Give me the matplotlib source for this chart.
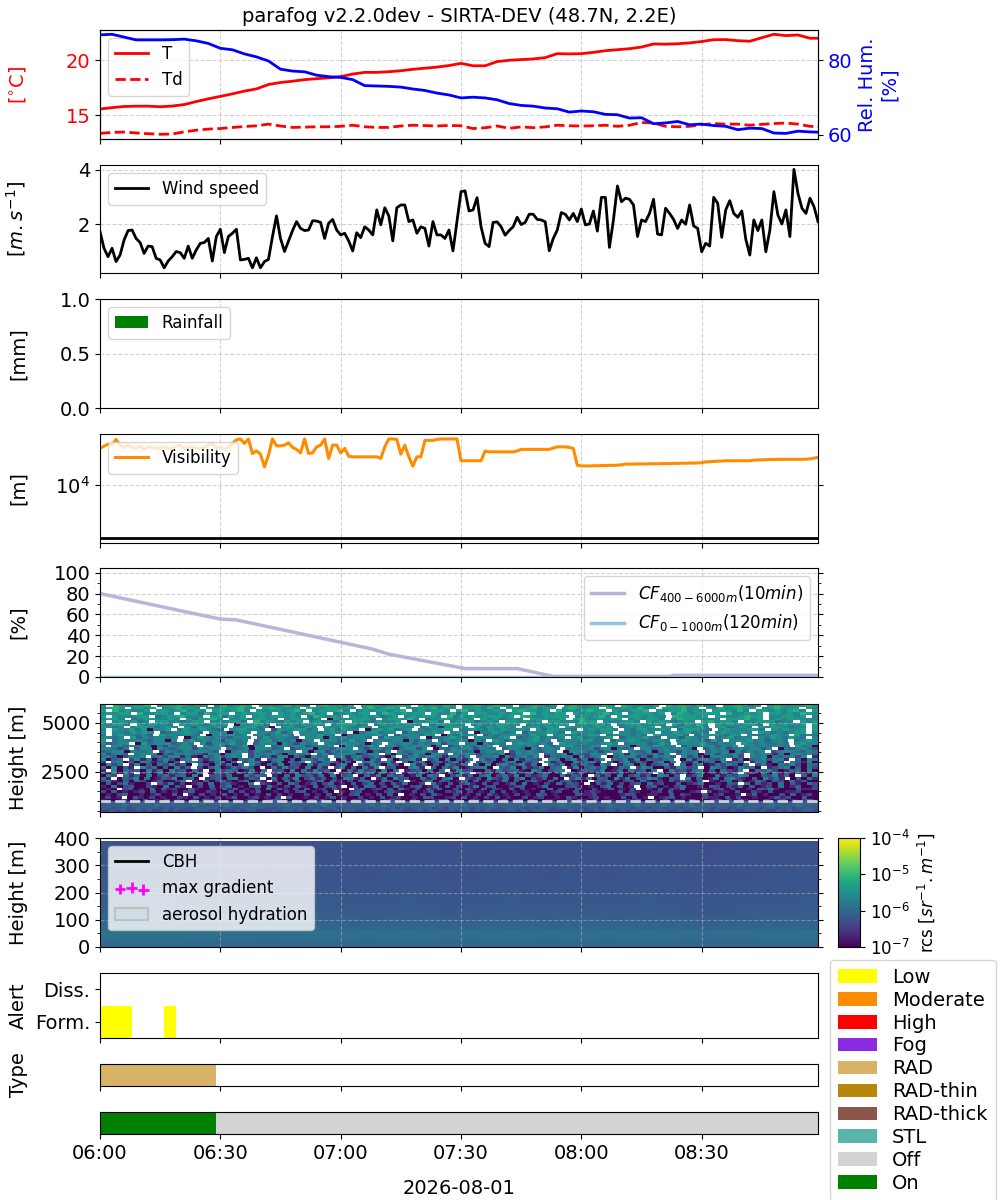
import numpy as np
import matplotlib
matplotlib.use("Agg")
import matplotlib.pyplot as plt
import matplotlib.dates as mdates
import matplotlib.patches as mpatches
from matplotlib.colors import LogNorm
from matplotlib.cm import ScalarMappable
from matplotlib.ticker import MultipleLocator, NullLocator, FixedLocator

plt.rcParams['font.family'] = ['DejaVu Sans']
plt.rcParams['font.size'] = 14

# ---------------------------------------------------------------- data
title = "parafog v2.2.0dev - SIRTA-DEV (48.7N, 2.2E)"
date_label = "2026-08-01"
start = np.datetime64("2026-08-01T06:00")
end_minute = 179

met_minutes = np.arange(0, 181, 3)
temperature = [15.57, 15.70, 15.80, 15.83, 15.83, 15.78, 15.84, 15.98, 16.25, 16.50,
               16.72, 16.95, 17.20, 17.40, 17.80, 17.98, 18.10, 18.24, 18.33, 18.40,
               18.52, 18.75, 18.90, 18.90, 18.96, 19.05, 19.18, 19.28, 19.38, 19.52,
               19.72, 19.50, 19.50, 19.88, 20.00, 20.06, 20.12, 20.24, 20.60, 20.58,
               20.60, 20.72, 20.87, 20.96, 21.05, 21.20, 21.48, 21.46, 21.50, 21.58,
               21.70, 21.87, 21.88, 21.78, 21.73, 22.05, 22.36, 22.24, 22.30, 22.00,
               22.00]
dewpoint = [13.36, 13.45, 13.48, 13.40, 13.33, 13.28, 13.30, 13.50, 13.65, 13.75,
            13.80, 13.90, 13.98, 14.05, 14.20, 14.03, 13.90, 13.93, 13.96, 13.96,
            14.00, 14.10, 13.96, 13.90, 13.90, 14.03, 14.10, 14.07, 14.03, 14.08,
            14.05, 13.80, 13.87, 14.03, 13.82, 13.95, 13.88, 13.95, 14.10, 14.05,
            14.03, 14.05, 14.10, 14.00, 14.10, 14.35, 14.30, 14.00, 13.96, 14.00,
            14.15, 14.25, 14.20, 14.20, 14.10, 14.18, 14.25, 14.30, 14.20, 14.00,
            13.96]
rel_hum = [86.8, 86.95, 86.2, 85.45, 85.45, 85.45, 85.5, 85.65, 85.2, 84.5,
           83.2, 82.8, 81.7, 80.9, 79.8, 77.6, 77.1, 76.9, 76.0, 75.6,
           75.4, 74.8, 73.2, 73.1, 73.0, 72.8, 72.3, 71.9, 71.2, 70.7,
           69.9, 70.1, 69.9, 69.4, 68.4, 67.9, 67.7, 67.2, 67.0, 66.1,
           66.4, 66.2, 65.5, 65.4, 64.5, 64.6, 63.0, 63.2, 63.6, 62.7,
           62.9, 62.5, 62.3, 61.4, 61.8, 61.7, 60.5, 60.4, 61.0, 60.8,
           60.7]

minutes_1min = np.arange(0, 180)
wind_speed = [1.73, 1.12, 0.81, 1.12, 0.63, 0.87, 1.42, 1.77, 1.79, 1.48,
              1.33, 0.93, 1.20, 1.18, 0.75, 0.69, 0.40, 0.65, 0.81, 1.00,
              0.96, 0.75, 1.20, 0.75, 1.06, 1.30, 1.33, 1.48, 0.65, 1.55,
              1.82, 0.96, 1.55, 1.67, 1.82, 0.69, 0.71, 0.75, 0.40, 0.77,
              0.40, 0.63, 0.71, 1.55, 2.31, 1.48, 1.00, 1.39, 1.77, 2.10,
              1.85, 1.77, 1.79, 2.13, 2.12, 2.07, 1.48, 2.04, 2.18, 1.79,
              1.61, 1.67, 1.39, 1.02, 1.69, 1.51, 1.91, 1.79, 1.61, 2.53,
              1.98, 2.61, 2.31, 1.39, 2.61, 2.71, 2.71, 2.10, 2.16, 1.67,
              1.91, 1.85, 1.20, 2.10, 1.61, 1.61, 1.48, 1.79, 1.02, 2.10,
              3.20, 3.23, 2.49, 2.53, 2.98, 1.91, 1.30, 1.18, 2.07, 2.09,
              1.91, 1.60, 1.77, 1.91, 2.26, 1.99, 2.07, 2.37, 2.37, 2.18,
              2.16, 2.09, 1.03, 1.48, 1.79, 2.43, 2.37, 2.16, 2.40, 2.10,
              2.56, 1.98, 2.01, 2.49, 1.75, 2.99, 2.99, 1.15, 2.16, 3.41,
              2.83, 2.96, 2.92, 2.71, 1.55, 2.16, 2.10, 2.40, 2.92, 1.64,
              1.61, 2.59, 2.40, 2.18, 1.85, 2.16, 2.00, 2.71, 1.94, 1.85,
              0.99, 1.30, 1.20, 2.99, 2.77, 1.52, 2.53, 2.87, 2.40, 2.26,
              2.49, 1.45, 0.87, 2.16, 1.77, 2.16, 0.99, 1.79, 3.20, 2.34,
              2.01, 2.53, 1.55, 4.02, 3.14, 2.59, 2.40, 2.96, 2.65, 2.10]
visibility = [30100, 32200, 34200, 33200, 39500, 33200, 31000, 33200, 31000, 30100,
              32200, 29200, 31500, 31000, 29800, 30700, 31500, 30100, 30100, 32200,
              33200, 30100, 31000, 31500, 30100, 30100, 31000, 33200, 34900, 30100,
              31500, 29200, 31000, 34900, 39000, 40000, 34900, 40000, 25800, 27900,
              25300, 17200, 24500, 40000, 32500, 32500, 33200, 35600, 31000, 29200,
              26300, 40000, 25800, 26300, 31500, 33200, 40000, 22200, 33200, 33200,
              26300, 30100, 23700, 23300, 23300, 23300, 23300, 23300, 23300, 23300,
              22200, 31500, 40000, 40000, 39500, 25300, 33200, 23300, 17600, 23300,
              23300, 38300, 38300, 38300, 39500, 40000, 40000, 40000, 40000, 40000,
              20700, 20700, 20700, 20700, 20700, 20700, 27700, 27100, 27100, 27100,
              27100, 27100, 27100, 27100, 27900, 29200, 29200, 29200, 29200, 29200,
              29200, 29200, 29200, 30400, 31500, 31500, 31500, 31000, 30100, 18100,
              17700, 17700, 17700, 17800, 17800, 17900, 17900, 18000, 18000, 18100,
              18300, 18700, 18700, 18700, 18800, 18800, 18800, 18900, 18900, 18900,
              19000, 19000, 19000, 19100, 19100, 19200, 19200, 19300, 19300, 19400,
              19500, 20000, 20100, 20300, 20400, 20500, 20700, 20700, 20700, 20700,
              20700, 20700, 20700, 21100, 21200, 21300, 21400, 21500, 21500, 21600,
              21600, 21600, 21600, 21600, 21600, 21600, 21700, 21900, 22400, 22900]
vis_threshold = 2000

rain_minutes = np.arange(0, 180, 5)
rainfall = [0, 0, 0, 0, 0, 0, 0, 0, 0, 0, 0, 0, 0, 0, 0, 0, 0, 0,
            0, 0, 0, 0, 0, 0, 0, 0, 0, 0, 0, 0, 0, 0, 0, 0, 0, 0]

cf_minutes = [0, 25, 30, 34, 61, 68, 72, 91, 104, 113, 142, 143, 179]
cf_400_6000 = [80.0, 59.5, 55.6, 54.7, 32.5, 26.7, 21.9, 8.1, 8.1, 0.6, 0.6, 1.6, 1.6]
cf_0_1000 = [0, 0, 0, 0, 0, 0, 0, 0, 0, 0, 0, 0, 0]

# lidar range-corrected signal, 440-5960 m: one string per range gate (bottom -> top),
# each character is an index into rcs_levels (log10 rcs), '.' = no valid signal
rcs_levels = [-7.3, -7.0, -6.7, -6.35, -6.1, -5.85, -5.6, -5.35, -5.1, -4.85]
rcs_high_bottom, rcs_high_top = 440, 5960
rcs_high_rows = [
    "3343 4334 3433 4343 3344 4334 3343 4433 3434 4343 3443 3434 4334 3343 4433 3434 4334 3443 4343 3344 3434 4433 3343 4334 3443 4343 3434 4334 3344 4343 3433 4434 3343 4334 43",
    "4434 4344 4443 4344 3444 4434 4344 4443 3444 4434 4344 3444 4434 4443 4344 4434 3444 4344 4434 4443 4344 3444 4434 4344 4443 4434 4344 3444 4434 4344 4443 4434 4344 44",
    "4444 5444 4454 4444 4544 4445 4444 5444 4454 4444 4544 4444 4454 5444 4444 4544 4445 4444 5444 4454 4444 4544 4444 4454 4445 4444 5444 4544 4444 4454 4444 5444 4544 4",
    "4544 4454 5444 4544 4454 4445 5444 4544 4454 5445 4544 4454 5444 4545 4454 4544 5444 4454 4544 5445 4454 4544 5444 4454 4545 4444 5454 4544 4454 5444 4544 4454 54",
    "2011 3021 4021 3021 1204 3210 1202 3102 4301 2104 2301 1203 2411 0232 0130 1023 4120 1320 1203 0241 3102 2013 0421 3012 1032 4102 0312 2140 1023 0314 2101 3024 1203 41",
    "1302 .142 0312 0132 0412 1302 4012 3120 3.41 1203 0241 2013 0214 0231 0214 3102 3041 2031 4021 1302 3012 0421 1230 2104 0312 .123 4021 0132 2041 3102 1024 2310 401",
    "0213 4012 0231 140. 2031 2041 2031 2041 3021 0312 0412 0341 2031 40.1 2031 4201 3021 3042 1203 0214 3120 1042 2301 0124 3102 2014 0321 1402 3012 .241 2103 0412 31",
    "3041 2023 1402 1203 4103 2014 1302 4012 0313 4021 30.2 0341 1203 4201 3024 0132 4031 2041 3120 2104 0231 1402 3201 0413 2102 3140 1023 .312 2041 1320 4012 2301 0",
    "120. 3402 1504 2310 4201 3052 4021 3150 4203 1402 3042 1.35 0231 4052 0314 2501 3042 1403 2140 3021 1503 2041 0312 4120 3.02 1403 2510 0213 4031 1204 3520 1042 23",
    "2150 3410 3215 042. 1304 1350 2134 0521 3042 1503 42.0 3154 0315 2034 1250 4130 2513 4102 3401 2510 1342 0213 5041 2.13 4021 3510 2043 1325 0412 3150 2401 3",
    "0413 5201 3.42 5130 2415 0342 105. 3204 1530 2413 5021 4035 1304 2510 3.52 0413 5204 1302 4150 2031 5243 1.04 2513 0341 5230 1402 3510 2143 .504 2315 0421 53",
    "3520 4153 0240 135. 2041 3520 3514 2.30 5140 2351 4203 1452 0531 4.20 3514 3025 1403 1250 4135 2041 3520 1.43 5203 4152 0314 2530 4.21 3504 1253 0431 5240 1",
    "52.1 4361 5024 3614 50.2 3415 6024 3.15 0426 1352 4031 6524 0.25 1634 0152 4156 0.32 4163 2514 6032 4150 .362 5143 0625 1436 5204 3.61 4025 1563 2041 6352 .140 52",
    "163. 5240 6135 2450 61.3 4250 1635 4.20 5163 4250 6134 .052 6153 4026 154. 0362 5146 0352 6142 3501 6243 1.52 4061 3524 1650 4.23 6105 2436 5014 3625 1.40 6",
    "4051 63.2 5061 4352 06.1 5340 6251 4.36 0251 4360 5.24 1635 0624 .153 6024 1506 3.52 4061 5236 1450 3.62 5014 6325 1043 5.61 4250 3614 0526 .341 5062 4153 26",
    "2.61 5340 6251 6340 52.1 6354 0261 5.34 0615 2634 0.15 2634 1605 .234 1605 .263 4105 2634 5216 4035 6.12 5436 0251 6340 5.16 3425 6041 5326 .154 6302 4516 0",
    "5160 42.6 3514 0625 .314 6025 3641 .052 6341 6052 .361 4052 6.34 1056 2.41 5360 2456 1.43 6052 3614 5.26 0453 6125 4.36 5014 2653 4.16 5302 6451 .235 6041 53",
    "0635 .261 4053 6241 .530 6251 4.63 0526 1430 6254 1360 .526 4153 0.62 5140 6325 .416 0563 4625 1.53 6042 5316 4.25 6150 3462 .514 6025 3641 5.36 2054 6315 4",
    "3.56 1406 5236 14.5 6302 5614 .365 2046 1536 .425 6314 0.56 3462 .514 6035 2461 5.36 4025 6143 5.62 4016 3562 .415 6253 1460 5.32 6145 0635 4.26 5163 .542 61",
    "6145 .362 5046 3156 .425 6031 5462 .356 1406 5364 .152 6405 3.61 4562 .350 6142 5.63 4051 6254 3.65 1462 5036 .546 2615 4356 .162 5643 6.25 1456 3562 .416 5",
    "5641 3656 .453 6625 2164 6356 5.36 4526 6153 1645 .562 5634 6316 .356 4665 2563 6.45 5616 3564 6.25 4651 6356 .146 5635 2656 4.63 5216 6546 3.65 6154 5636 .2",
    "6356 4.56 6615 3656 5426 6156 6.35 5664 1565 6.46 3566 5246 6.51 6536 5166 4.56 6635 5461 3656 6.45 5616 4365 6.56 2654 5636 .465 6156 3656 4.65 6625 1565 64",
    "4566 1655 6.36 5465 6654 .156 6365 4656 5.61 6635 4566 5153 6.64 5665 3.56 6451 5666 .365 6546 5.16 6645 3566 .654 6156 5365 6.46 5616 4656 .356 6546 5",
    "6653 5.46 6165 4566 3656 6.54 5616 6645 .356 6155 4666 .536 6451 5663 6.15 4656 6365 5.46 6516 4665 .566 5636 6154 5.66 4565 6651 .465 6356 5664 6.15 4665 3",
    "5.66 4656 6153 6566 4.65 6635 5716 6.45 6566 3565 6.16 6457 5.66 4656 6615 .356 6465 7.56 6656 5.64 6675 4566 .656 6156 5765 6.46 5666 4657 .665 6566 5.75 61",
    "6456 6.17 5666 4565 .636 6575 5.46 6616 5365 6.65 4766 5156 .656 6465 5736 6.56 1656 5.67 6656 4.76 6565 5676 .566 6457 5.66 6675 4656 .765 6556 5.67 66",
    "7.56 5665 4661 6.57 5656 3665 6.46 7565 6156 .666 4575 6.56 5661 6475 .565 6616 5.76 4665 6756 .566 6675 5.46 6765 5665 .676 6547 5.66 6756 4665 .567 6",
    "6656 .746 5665 6.15 7656 5466 6.57 5665 4.66 7165 6566 5.47 6656 6.15 5676 4.66 6567 .456 7565 6.67 5656 7.46 6675 5.66 4765 6.56 7566 .657 6576 5.6",
    "5.67 6656 4.76 6566 5.16 6675 6.56 4667 5.66 6756 .156 6667 5.46 6657 6.16 5667 .465 6676 5766 .675 6567 7.56 6656 5.76 6675 .566 7657 6.65 5676 6.75 65",
    "6.66 5767 6.45 6676 5.66 6157 6.66 5746 .666 5676 6.15 6756 6.46 5667 6.67 5.16 6765 6.46 6676 5.76 6657 7.66 5676 .667 6756 5.67 6676 .765 6567 7.6",
    "6.76 6757 1667 .576 6765 4.67 7665 .376 6775 6.67 5766 .167 6756 7.65 6677 .567 6576 7667 6.75 7766 5.67 6776 .657 7667 6.57 7765 .676 6677 5.76 7667 .7",
    "7656 .677 6567 6.74 7667 5.66 7756 1.67 6576 .766 7657 6.56 7766 .576 2677 6.75 7676 6.67 7576 .767 6676 7.56 6767 .675 7667 6.77 5676 .767 7656 6.7",
    "6677 5.76 7665 .767 6576 7.16 6775 .667 5767 6.67 7756 .576 6677 6.57 7766 .675 6776 7.56 6767 7.67 6776 .567 7667 6.75 7686 .767 6677 5.76 7667 .7",
    "7.67 6756 .776 6567 7.66 6775 .867 6576 7.67 6657 .776 5766 7.16 6775 .676 7567 6.77 6767 .776 6687 7.66 6776 .767 7567 6.78 6776 .667 7756 6.76 7",
    "6776 .567 7667 6.75 7786 .667 5776 6.67 7756 .176 6777 5.67 7686 .567 7667 6.76 7567 6.77 7667 .786 6767 7.67 6776 .687 7766 6.77 7867 .676 7766 6",
    "7.76 6677 .567 7866 6.77 5767 .676 7767 6.58 7676 .767 6756 7.67 6776 .857 6767 7767 .876 6777 7.67 6786 .767 7676 6.87 7767 .776 6787 7.66 7767 .6",
    "6767 7.86 6776 .677 5867 7.67 6776 .767 6786 7.56 7677 .687 6767 7.76 6857 .776 6767 7.86 7677 .767 6786 7.67 7767 .687 6777 7.86 6767 .776 7687 6",
    "7.86 7667 .776 7867 6.77 6786 .767 7678 6.67 7786 .676 7767 8.67 6776 .786 7667 6.78 7767 .867 6787 7.76 6778 .767 7867 6.77 7686 .776 7678 6.7",
    "6787 .776 7.67 8676 .767 7786 6.78 7667 .876 7767 6.78 6787 .767 7867 6.77 7686 .776 7867 6.78 7677 .867 7686 6.77 7867 .768 6787 7.67 8677 .76",
    "7.87 6778 .677 8767 7.68 6787 .776 7867 6.78 7768 .787 6778 7.86 7687 .778 6787 7.67 8767 .786 6778 7.87 6767 .878 7686 6.77 8767 .787 6778 7",
]
dashed_height = 1000

# lidar 0-400 m: mean log10 profile per 15 m gate and time modulation (5-min)
rcs_low_gate = 15
rcs_low_profile = [-6.02, -5.98, -5.95, -5.90, -6.00, -6.06, -6.10, -6.12, -6.14, -6.16,
                   -6.17, -6.18, -6.19, -6.20, -6.20, -6.21, -6.22, -6.22, -6.23, -6.23,
                   -6.24, -6.24, -6.25, -6.25, -6.25, -6.26]
rcs_low_time_mod = [0.06, 0.05, 0.05, 0.04, 0.03, 0.02, 0.00, 0.01, -0.01, 0.00, 0.02, 0.01,
                    0.00, -0.01, 0.00, 0.01, 0.00, -0.02, -0.01, 0.00, 0.01, 0.00, -0.01, 0.00,
                    0.00, -0.01, 0.00, 0.01, 0.00, -0.02, -0.03, -0.02, -0.01, 0.00, 0.00, 0.01]
cbh_minutes, cbh_heights = [], []
maxgrad_minutes, maxgrad_heights = [], []

alert_rows = ['Form.', 'Diss.']
alert_start = ['06:00', '06:16']
alert_end = ['06:08', '06:19']
alert_row = ['Form.', 'Form.']
alert_level = ['Low', 'Low']

type_start = ['06:00']
type_end = ['06:29']
type_name = ['RAD']

state_start = ['06:00', '06:29']
state_end = ['06:29', '08:59']
state_name = ['On', 'Off']

legend_names = ['Low', 'Moderate', 'High', 'Fog', 'RAD', 'RAD-thin', 'RAD-thick', 'STL', 'Off', 'On']
legend_colors = ['yellow', 'darkorange', 'red', 'blueviolet', '#d8b365', 'darkgoldenrod',
                 '#8c564b', '#5ab4ac', 'lightgray', 'green']
color_of = dict(zip(legend_names, legend_colors))

# ---------------------------------------------------------------- helpers
base = mdates.date2num(start)


def tnum(m):
    return base + np.asarray(m, dtype=float) / 1440.0


def hm(s):
    h, m = s.split(':')
    return (int(h) - 6) * 60 + int(m)


FIG_W, FIG_H = 1000, 1200
L, W = 0.100, 0.718


def box(top, bottom):
    return [L, 1 - bottom / FIG_H, W, (bottom - top) / FIG_H]


grid_kw = dict(linestyle='--', color='#b0b0b0', alpha=0.55, linewidth=0.8)

fig = plt.figure(figsize=(10, 12), dpi=100)

ax_t = fig.add_axes(box(30, 139))
ax_w = fig.add_axes(box(165, 273), sharex=ax_t)
ax_r = fig.add_axes(box(299, 408), sharex=ax_t)
ax_v = fig.add_axes(box(434, 543), sharex=ax_t)
ax_c = fig.add_axes(box(568, 677), sharex=ax_t)
ax_l1 = fig.add_axes(box(704, 812), sharex=ax_t)
ax_l2 = fig.add_axes(box(838, 947), sharex=ax_t)
ax_a = fig.add_axes(box(973, 1038), sharex=ax_t)
ax_ty = fig.add_axes(box(1064, 1086), sharex=ax_t)
ax_o = fig.add_axes(box(1112, 1134), sharex=ax_t)
cax = fig.add_axes([0.838, 1 - 947 / FIG_H, 0.022, 109 / FIG_H])

all_axes = [ax_t, ax_w, ax_r, ax_v, ax_c, ax_l1, ax_l2, ax_a, ax_ty, ax_o]

# ---- temperature / RH
tm = tnum(met_minutes)
ax_t.plot(tm, temperature, color='red', lw=2, label='T')
ax_t.plot(tm, dewpoint, color='red', lw=2, ls='--', label='Td')
ax_t.set_ylim(12.85, 22.75)
ax_t.yaxis.set_major_locator(MultipleLocator(5))
ax_t.tick_params(axis='y', labelcolor='red')
ax_t.set_ylabel('[$^{\\circ}$C]', color='red')
ax_t.legend(loc='upper left', fontsize=12)
ax_t.set_title(title, fontsize=14)
ax_rh = ax_t.twinx()
ax_rh.plot(tm, rel_hum, color='blue', lw=2)
ax_rh.set_ylim(58.9, 88.1)
ax_rh.yaxis.set_major_locator(MultipleLocator(20))
ax_rh.tick_params(axis='y', labelcolor='blue', labelsize=14)
ax_rh.set_ylabel('Rel. Hum.\n[%]', color='blue')

# ---- wind
t1 = tnum(minutes_1min)
ax_w.plot(t1, wind_speed, color='black', lw=2, label='Wind speed')
ax_w.set_ylim(0.21, 4.18)
ax_w.yaxis.set_major_locator(MultipleLocator(2))
ax_w.set_ylabel('$[m.s^{-1}]$')
ax_w.legend(loc='upper left', fontsize=12)

# ---- rain
ax_r.bar(tnum(rain_minutes), rainfall, width=5 / 1440, color='green', label='Rainfall')
ax_r.set_ylim(0, 1)
ax_r.yaxis.set_major_locator(FixedLocator([0, 0.5, 1.0]))
ax_r.set_ylabel('[mm]')
ax_r.legend(loc='upper left', fontsize=12)

# ---- visibility
ax_v.plot(t1, visibility, color='darkorange', lw=2.2, label='Visibility')
ax_v.axhline(vis_threshold, color='black', lw=2)
ax_v.set_yscale('log')
ax_v.set_ylim(1720, 46500)
ax_v.yaxis.set_minor_locator(NullLocator())
ax_v.tick_params(axis='y', right=True)
ax_v.set_ylabel('[m]')
ax_v.legend(loc='upper left', fontsize=12)

# ---- cloud fraction
tc = tnum(cf_minutes)
ax_c.plot(tc, cf_400_6000, color='#bfb1d9', lw=2.5, label='$CF_{400-6000m}(10min)$')
ax_c.plot(tc, cf_0_1000, color='#92c5de', lw=2.5, label='$CF_{0-1000m}(120min)$')
ax_c.set_ylim(0, 104.5)
ax_c.yaxis.set_major_locator(MultipleLocator(20))
ax_c.yaxis.set_minor_locator(MultipleLocator(10))
ax_c.tick_params(axis='y', which='both', right=True)
ax_c.set_ylabel('[%]')
ax_c.legend(loc='upper right', fontsize=12)

# ---- lidar high
norm = LogNorm(vmin=1e-7, vmax=1e-4)
cmap = plt.get_cmap('viridis')
h_edges = np.linspace(rcs_high_bottom, rcs_high_top, len(rcs_high_rows) + 1)
for i, row in enumerate(rcs_high_rows):
    s = row.replace(' ', '')
    vals = np.array([np.nan if c == '.' else 10 ** rcs_levels[int(c)] for c in s])
    xe = tnum(np.linspace(0, end_minute, len(s) + 1))
    ax_l1.pcolormesh(xe, h_edges[i:i + 2], vals[None, :], cmap=cmap, norm=norm, shading='flat')
ax_l1.axhline(dashed_height, color='lightgray', ls='--', lw=2)
ax_l1.set_ylim(rcs_high_bottom, rcs_high_top)
ax_l1.yaxis.set_major_locator(MultipleLocator(2500))
ax_l1.yaxis.set_minor_locator(MultipleLocator(500))
ax_l1.tick_params(axis='y', which='both', right=True)
ax_l1.set_ylabel('Height [m]')

# ---- lidar low
low_field = 10 ** (np.array(rcs_low_profile)[:, None] + np.array(rcs_low_time_mod)[None, :])
xe_low = tnum(np.linspace(0, end_minute, len(rcs_low_time_mod) + 1))
ye_low = np.arange(0, rcs_low_gate * (len(rcs_low_profile) + 1), rcs_low_gate)
ax_l2.pcolormesh(xe_low, ye_low, low_field, cmap=cmap, norm=norm, shading='flat')
h_cbh, = ax_l2.plot(tnum(cbh_minutes), cbh_heights, color='black', lw=2, label='CBH')
h_grad = ax_l2.scatter(tnum(maxgrad_minutes), maxgrad_heights, marker='+', color='magenta',
                       s=60, linewidths=2, label='max gradient')
h_aer = mpatches.Patch(facecolor=(0.75, 0.85, 0.9, 0.3), edgecolor='silver', lw=1.5,
                       label='aerosol hydration')
ax_l2.set_ylim(0, 400)
ax_l2.yaxis.set_major_locator(MultipleLocator(100))
ax_l2.yaxis.set_minor_locator(MultipleLocator(50))
ax_l2.tick_params(axis='y', which='both', right=True)
ax_l2.set_ylabel('Height [m]')
ax_l2.legend(handles=[h_cbh, h_grad, h_aer], loc='upper left', fontsize=12, scatterpoints=3)

cb = fig.colorbar(ScalarMappable(norm=norm, cmap=cmap), cax=cax)
cb.set_ticks([1e-7, 1e-6, 1e-5, 1e-4])
cb.ax.minorticks_off()
cb.ax.tick_params(labelsize=12)
cb.set_label('rcs [$sr^{-1}.m^{-1}$]', fontsize=12)

# ---- alert
for a0, a1, r, lev in zip(alert_start, alert_end, alert_row, alert_level):
    y = alert_rows.index(r)
    ax_a.broken_barh([(tnum(hm(a0)), tnum(hm(a1)) - tnum(hm(a0)))], (y - 0.5, 1.0),
                     facecolors=color_of[lev])
ax_a.set_ylim(-0.5, 1.5)
ax_a.set_yticks(range(len(alert_rows)))
ax_a.set_yticklabels(alert_rows)
ax_a.set_ylabel('Alert')

# ---- type
for a0, a1, n in zip(type_start, type_end, type_name):
    ax_ty.axvspan(tnum(hm(a0)), tnum(hm(a1)), color=color_of[n], lw=0)
ax_ty.set_ylim(0, 1)
ax_ty.set_yticks([])
ax_ty.set_ylabel('Type')

for a0, a1, n in zip(state_start, state_end, state_name):
    ax_o.axvspan(tnum(hm(a0)), tnum(hm(a1)), color=color_of[n], lw=0)
ax_o.set_ylim(0, 1)
ax_o.set_yticks([])
ax_o.set_xlabel(date_label, labelpad=12)

# ---- common x axis
ax_t.set_xlim(tnum(0), tnum(end_minute))
ax_o.xaxis.set_major_locator(mdates.MinuteLocator(byminute=[0, 30]))
ax_o.xaxis.set_major_formatter(mdates.DateFormatter('%H:%M'))
for ax in all_axes:
    ax.tick_params(labelsize=14)
    if ax is not ax_o:
        ax.tick_params(axis='x', labelbottom=False)
    ax.yaxis.set_label_coords(-0.10, 0.5)
for ax in [ax_t, ax_w, ax_r, ax_v, ax_c, ax_l1, ax_l2]:
    ax.grid(True, **grid_kw)

handles = [mpatches.Patch(facecolor=c, label=n) for n, c in zip(legend_names, legend_colors)]
fig.legend(handles=handles, loc='upper left', bbox_to_anchor=(0.830, 0.200),
           borderaxespad=0, fontsize=14, labelspacing=0.2)

fig.savefig('out.png', dpi=100)
